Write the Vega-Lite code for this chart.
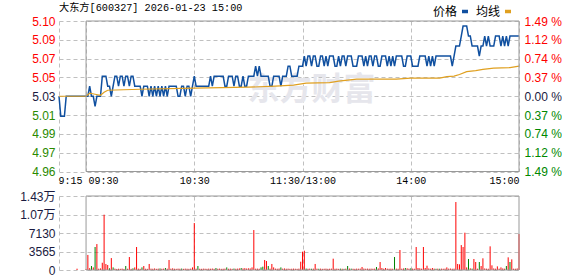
{
  "$schema": "https://vega.github.io/schema/vega-lite/v6.json",
  "background": "white",
  "padding": {"left": 19, "top": 2, "right": 0, "bottom": 0},
  "config": {
    "view": {"stroke": null},
    "axis": {"labelFont": "Liberation Sans, Noto Sans CJK SC", "labelFontSize": 12, "gridColor": "#c0c0c0", "gridDash": [4, 3], "gridWidth": 1, "gridOpacity": 1, "ticks": false, "domain": false, "labelOverlap": false}
  },
  "datasets": {
    "price": [
      {"m":-15,"p":5.03},{"m":-14,"p":5.01},{"m":-12,"p":5.01},{"m":-11,"p":5.03},
      {"m":0,"p":5.03},{"m":1,"p":5.03},{"m":2,"p":5.04},{"m":3,"p":5.03},{"m":4,"p":5.03},{"m":5,"p":5.02},{"m":6,"p":5.03},{"m":7,"p":5.03},{"m":8,"p":5.03},{"m":9,"p":5.05},
      {"m":10,"p":5.05},{"m":11,"p":5.05},{"m":12,"p":5.04},{"m":13,"p":5.04},{"m":14,"p":5.03},{"m":15,"p":5.04},{"m":16,"p":5.05},{"m":17,"p":5.05},{"m":18,"p":5.04},{"m":19,"p":5.05},
      {"m":20,"p":5.05},{"m":21,"p":5.04},{"m":22,"p":5.05},{"m":23,"p":5.05},{"m":24,"p":5.04},{"m":25,"p":5.05},{"m":26,"p":5.05},{"m":27,"p":5.04},{"m":28,"p":5.04},{"m":29,"p":5.04},
      {"m":30,"p":5.04},{"m":31,"p":5.03},{"m":32,"p":5.04},{"m":33,"p":5.04},{"m":34,"p":5.04},{"m":35,"p":5.03},{"m":36,"p":5.04},{"m":37,"p":5.03},{"m":38,"p":5.04},{"m":39,"p":5.03},
      {"m":40,"p":5.04},{"m":41,"p":5.03},{"m":42,"p":5.04},{"m":43,"p":5.03},{"m":44,"p":5.04},{"m":45,"p":5.03},{"m":46,"p":5.04},{"m":47,"p":5.04},{"m":48,"p":5.04},{"m":49,"p":5.04},
      {"m":50,"p":5.04},{"m":51,"p":5.03},{"m":52,"p":5.03},{"m":53,"p":5.04},{"m":54,"p":5.04},{"m":55,"p":5.03},{"m":56,"p":5.04},{"m":57,"p":5.04},{"m":58,"p":5.03},{"m":59,"p":5.04},
      {"m":60,"p":5.05},{"m":61,"p":5.04},{"m":62,"p":5.04},{"m":63,"p":5.04},{"m":64,"p":5.04},{"m":65,"p":5.04},{"m":66,"p":5.04},{"m":67,"p":5.04},{"m":68,"p":5.04},{"m":69,"p":5.05},
      {"m":70,"p":5.04},{"m":71,"p":5.05},{"m":72,"p":5.05},{"m":73,"p":5.05},{"m":74,"p":5.05},{"m":75,"p":5.05},{"m":76,"p":5.05},{"m":77,"p":5.04},{"m":78,"p":5.04},{"m":79,"p":5.05},
      {"m":80,"p":5.05},{"m":81,"p":5.05},{"m":82,"p":5.04},{"m":83,"p":5.05},{"m":84,"p":5.05},{"m":85,"p":5.04},{"m":86,"p":5.04},{"m":87,"p":5.05},{"m":88,"p":5.04},{"m":89,"p":5.04},
      {"m":90,"p":5.05},{"m":91,"p":5.05},{"m":92,"p":5.05},{"m":93,"p":5.05},{"m":94,"p":5.06},{"m":95,"p":5.05},{"m":96,"p":5.06},{"m":97,"p":5.05},{"m":98,"p":5.05},{"m":99,"p":5.05},
      {"m":100,"p":5.05},{"m":101,"p":5.05},{"m":102,"p":5.04},{"m":103,"p":5.04},{"m":104,"p":5.05},{"m":105,"p":5.05},{"m":106,"p":5.05},{"m":107,"p":5.05},{"m":108,"p":5.04},{"m":109,"p":5.05},
      {"m":110,"p":5.05},{"m":111,"p":5.05},{"m":112,"p":5.06},{"m":113,"p":5.06},{"m":114,"p":5.05},{"m":115,"p":5.05},{"m":116,"p":5.05},{"m":117,"p":5.05},{"m":118,"p":5.06},{"m":119,"p":5.06},
      {"m":120,"p":5.06},{"m":121,"p":5.07},{"m":122,"p":5.06},{"m":123,"p":5.07},{"m":124,"p":5.07},{"m":125,"p":5.06},{"m":126,"p":5.07},{"m":127,"p":5.07},{"m":128,"p":5.06},{"m":129,"p":5.06},
      {"m":130,"p":5.07},{"m":131,"p":5.07},{"m":132,"p":5.06},{"m":133,"p":5.07},{"m":134,"p":5.06},{"m":135,"p":5.07},{"m":136,"p":5.07},{"m":137,"p":5.07},{"m":138,"p":5.06},{"m":139,"p":5.06},
      {"m":140,"p":5.07},{"m":141,"p":5.06},{"m":142,"p":5.07},{"m":143,"p":5.07},{"m":144,"p":5.06},{"m":145,"p":5.07},{"m":146,"p":5.07},{"m":147,"p":5.07},{"m":148,"p":5.06},{"m":149,"p":5.06},
      {"m":150,"p":5.06},{"m":151,"p":5.07},{"m":152,"p":5.07},{"m":153,"p":5.07},{"m":154,"p":5.06},{"m":155,"p":5.07},{"m":156,"p":5.06},{"m":157,"p":5.07},{"m":158,"p":5.07},{"m":159,"p":5.06},
      {"m":160,"p":5.07},{"m":161,"p":5.07},{"m":162,"p":5.06},{"m":163,"p":5.06},{"m":164,"p":5.07},{"m":165,"p":5.07},{"m":166,"p":5.07},{"m":167,"p":5.06},{"m":168,"p":5.07},{"m":169,"p":5.06},
      {"m":170,"p":5.07},{"m":171,"p":5.06},{"m":172,"p":5.07},{"m":173,"p":5.07},{"m":174,"p":5.07},{"m":175,"p":5.07},{"m":176,"p":5.06},{"m":177,"p":5.06},{"m":178,"p":5.07},{"m":179,"p":5.07},
      {"m":180,"p":5.07},{"m":181,"p":5.06},{"m":182,"p":5.06},{"m":183,"p":5.06},{"m":184,"p":5.06},{"m":185,"p":5.07},{"m":186,"p":5.07},{"m":187,"p":5.07},{"m":188,"p":5.07},{"m":189,"p":5.06},
      {"m":190,"p":5.07},{"m":191,"p":5.06},{"m":192,"p":5.07},{"m":193,"p":5.06},{"m":194,"p":5.07},{"m":195,"p":5.07},{"m":196,"p":5.07},{"m":197,"p":5.07},{"m":198,"p":5.07},{"m":199,"p":5.07},
      {"m":200,"p":5.07},{"m":201,"p":5.07},{"m":202,"p":5.07},{"m":203,"p":5.06},{"m":204,"p":5.07},{"m":205,"p":5.08},{"m":206,"p":5.08},{"m":207,"p":5.08},{"m":208,"p":5.09},{"m":209,"p":5.10},
      {"m":210,"p":5.10},{"m":211,"p":5.10},{"m":212,"p":5.09},{"m":213,"p":5.09},{"m":214,"p":5.08},{"m":215,"p":5.08},{"m":216,"p":5.08},{"m":217,"p":5.08},{"m":218,"p":5.07},{"m":219,"p":5.08},
      {"m":220,"p":5.08},{"m":221,"p":5.09},{"m":222,"p":5.08},{"m":223,"p":5.09},{"m":224,"p":5.08},{"m":225,"p":5.08},{"m":226,"p":5.08},{"m":227,"p":5.09},{"m":228,"p":5.09},{"m":229,"p":5.09},
      {"m":230,"p":5.08},{"m":231,"p":5.09},{"m":232,"p":5.08},{"m":233,"p":5.09},{"m":234,"p":5.08},{"m":235,"p":5.09},{"m":236,"p":5.09},{"m":237,"p":5.09},{"m":238,"p":5.09},{"m":239,"p":5.09},
      {"m":240,"p":5.09}
    ],
    "avg": [
      {"m":-15,"a":5.03},{"m":0,"a":5.03},{"m":2,"a":5.033},{"m":5,"a":5.032},{"m":8,"a":5.031},{"m":10,"a":5.034},{"m":12,"a":5.036},{"m":30,"a":5.037},{"m":60,"a":5.038},{"m":90,"a":5.039},
      {"m":105,"a":5.04},{"m":115,"a":5.041},{"m":122,"a":5.043},{"m":135,"a":5.0435},{"m":140,"a":5.045},{"m":150,"a":5.047},{"m":172,"a":5.047},{"m":180,"a":5.048},{"m":196,"a":5.048},{"m":200,"a":5.0495},
      {"m":204,"a":5.05},{"m":207,"a":5.0517},{"m":211,"a":5.0545},{"m":216,"a":5.0555},{"m":220,"a":5.0567},{"m":226,"a":5.058},{"m":235,"a":5.0585},{"m":240,"a":5.06}
    ],
    "vol": [
      {"m":-5,"v":250,"c":"r"},{"m":0,"v":200,"c":"r"},{"m":1,"v":2900,"c":"r"},{"m":2,"v":350,"c":"r"},{"m":3,"v":770,"c":"g"},{"m":4,"v":500,"c":"r"},{"m":5,"v":4430,"c":"g"},{"m":6,"v":5000,"c":"r"},{"m":7,"v":250,"c":"r"},{"m":8,"v":300,"c":"r"},{"m":9,"v":1400,"c":"r"},
      {"m":10,"v":10660,"c":"r"},{"m":11,"v":1160,"c":"r"},{"m":12,"v":960,"c":"r"},{"m":13,"v":320,"c":"g"},{"m":14,"v":2300,"c":"r"},{"m":15,"v":500,"c":"g"},{"m":16,"v":260,"c":"r"},{"m":17,"v":200,"c":"r"},{"m":18,"v":240,"c":"r"},{"m":19,"v":220,"c":"r"},
      {"m":20,"v":260,"c":"r"},{"m":21,"v":200,"c":"r"},{"m":22,"v":770,"c":"g"},{"m":23,"v":240,"c":"r"},{"m":24,"v":2500,"c":"r"},{"m":25,"v":220,"c":"r"},{"m":26,"v":320,"c":"g"},{"m":27,"v":500,"c":"r"},{"m":28,"v":4430,"c":"r"},{"m":29,"v":260,"c":"r"},
      {"m":30,"v":220,"c":"r"},{"m":31,"v":500,"c":"g"},{"m":32,"v":770,"c":"r"},{"m":33,"v":240,"c":"r"},{"m":34,"v":220,"c":"r"},{"m":35,"v":1160,"c":"r"},{"m":36,"v":260,"c":"r"},{"m":37,"v":240,"c":"r"},{"m":38,"v":300,"c":"r"},{"m":39,"v":220,"c":"r"},
      {"m":40,"v":260,"c":"r"},{"m":41,"v":300,"c":"g"},{"m":42,"v":240,"c":"r"},{"m":43,"v":260,"c":"r"},{"m":44,"v":380,"c":"g"},{"m":45,"v":250,"c":"r"},{"m":46,"v":1930,"c":"r"},{"m":47,"v":250,"c":"r"},{"m":48,"v":320,"c":"r"},{"m":49,"v":240,"c":"r"},
      {"m":50,"v":220,"c":"r"},{"m":51,"v":260,"c":"r"},{"m":52,"v":240,"c":"r"},{"m":53,"v":280,"c":"g"},{"m":54,"v":220,"c":"r"},{"m":55,"v":260,"c":"r"},{"m":56,"v":240,"c":"r"},{"m":57,"v":220,"c":"r"},{"m":58,"v":260,"c":"r"},{"m":59,"v":500,"c":"r"},
      {"m":60,"v":9050,"c":"r"},{"m":61,"v":250,"c":"r"},{"m":62,"v":770,"c":"g"},{"m":63,"v":240,"c":"r"},{"m":64,"v":220,"c":"r"},{"m":65,"v":260,"c":"r"},{"m":66,"v":240,"c":"r"},{"m":67,"v":220,"c":"r"},{"m":68,"v":260,"c":"r"},{"m":69,"v":240,"c":"r"},
      {"m":70,"v":280,"c":"r"},{"m":71,"v":220,"c":"r"},{"m":72,"v":380,"c":"g"},{"m":73,"v":240,"c":"r"},{"m":74,"v":260,"c":"r"},{"m":75,"v":220,"c":"r"},{"m":76,"v":240,"c":"r"},{"m":77,"v":260,"c":"r"},{"m":78,"v":500,"c":"g"},{"m":79,"v":240,"c":"r"},
      {"m":80,"v":260,"c":"r"},{"m":81,"v":220,"c":"r"},{"m":82,"v":280,"c":"g"},{"m":83,"v":240,"c":"r"},{"m":84,"v":260,"c":"r"},{"m":85,"v":300,"c":"r"},{"m":86,"v":380,"c":"g"},{"m":87,"v":300,"c":"r"},{"m":88,"v":350,"c":"r"},{"m":89,"v":280,"c":"r"},
      {"m":90,"v":320,"c":"r"},{"m":91,"v":300,"c":"r"},{"m":92,"v":500,"c":"r"},{"m":93,"v":7700,"c":"r"},{"m":94,"v":250,"c":"r"},{"m":95,"v":260,"c":"r"},{"m":96,"v":240,"c":"r"},{"m":97,"v":500,"c":"g"},{"m":98,"v":640,"c":"g"},{"m":99,"v":1930,"c":"r"},
      {"m":100,"v":1730,"c":"r"},{"m":101,"v":770,"c":"g"},{"m":102,"v":250,"c":"r"},{"m":103,"v":1160,"c":"r"},{"m":104,"v":500,"c":"r"},{"m":105,"v":260,"c":"r"},{"m":106,"v":240,"c":"r"},{"m":107,"v":280,"c":"r"},{"m":108,"v":500,"c":"g"},{"m":109,"v":260,"c":"r"},
      {"m":110,"v":300,"c":"r"},{"m":111,"v":240,"c":"r"},{"m":112,"v":260,"c":"r"},{"m":113,"v":220,"c":"r"},{"m":114,"v":240,"c":"r"},{"m":115,"v":260,"c":"r"},{"m":116,"v":240,"c":"r"},{"m":117,"v":220,"c":"r"},{"m":118,"v":260,"c":"r"},{"m":119,"v":1600,"c":"r"},
      {"m":120,"v":3530,"c":"r"},{"m":121,"v":3720,"c":"r"},{"m":122,"v":280,"c":"g"},{"m":123,"v":240,"c":"r"},{"m":124,"v":260,"c":"r"},{"m":125,"v":240,"c":"g"},{"m":126,"v":260,"c":"r"},{"m":127,"v":1160,"c":"r"},{"m":128,"v":260,"c":"r"},{"m":129,"v":240,"c":"g"},
      {"m":130,"v":260,"c":"r"},{"m":131,"v":220,"c":"r"},{"m":132,"v":240,"c":"r"},{"m":133,"v":260,"c":"r"},{"m":134,"v":220,"c":"r"},{"m":135,"v":240,"c":"r"},{"m":136,"v":260,"c":"r"},{"m":137,"v":2180,"c":"r"},{"m":138,"v":240,"c":"r"},{"m":139,"v":260,"c":"r"},
      {"m":140,"v":220,"c":"r"},{"m":141,"v":260,"c":"g"},{"m":142,"v":240,"c":"r"},{"m":143,"v":220,"c":"g"},{"m":144,"v":260,"c":"r"},{"m":145,"v":770,"c":"g"},{"m":146,"v":280,"c":"r"},{"m":147,"v":260,"c":"g"},{"m":148,"v":240,"c":"r"},{"m":149,"v":220,"c":"r"},
      {"m":150,"v":260,"c":"r"},{"m":151,"v":240,"c":"r"},{"m":152,"v":260,"c":"r"},{"m":153,"v":580,"c":"r"},{"m":154,"v":280,"c":"r"},{"m":155,"v":240,"c":"r"},{"m":156,"v":260,"c":"r"},{"m":157,"v":240,"c":"r"},{"m":158,"v":260,"c":"r"},{"m":159,"v":240,"c":"r"},
      {"m":160,"v":260,"c":"r"},{"m":161,"v":580,"c":"g"},{"m":162,"v":300,"c":"r"},{"m":163,"v":1540,"c":"r"},{"m":164,"v":380,"c":"r"},{"m":165,"v":250,"c":"r"},{"m":166,"v":380,"c":"r"},{"m":167,"v":260,"c":"r"},{"m":168,"v":240,"c":"r"},{"m":169,"v":260,"c":"r"},
      {"m":170,"v":240,"c":"r"},{"m":171,"v":2500,"c":"g"},{"m":172,"v":260,"c":"r"},{"m":173,"v":240,"c":"r"},{"m":174,"v":3850,"c":"r"},{"m":175,"v":250,"c":"r"},{"m":176,"v":300,"c":"r"},{"m":177,"v":380,"c":"g"},{"m":178,"v":320,"c":"r"},{"m":179,"v":250,"c":"r"},
      {"m":180,"v":320,"c":"g"},{"m":181,"v":260,"c":"r"},{"m":182,"v":240,"c":"r"},{"m":183,"v":4430,"c":"r"},{"m":184,"v":380,"c":"r"},{"m":185,"v":320,"c":"r"},{"m":186,"v":250,"c":"r"},{"m":187,"v":4430,"c":"r"},{"m":188,"v":380,"c":"r"},{"m":189,"v":830,"c":"r"},
      {"m":190,"v":300,"c":"r"},{"m":191,"v":250,"c":"r"},{"m":192,"v":380,"c":"r"},{"m":193,"v":260,"c":"r"},{"m":194,"v":240,"c":"g"},{"m":195,"v":260,"c":"r"},{"m":196,"v":240,"c":"g"},{"m":197,"v":260,"c":"r"},{"m":198,"v":240,"c":"r"},{"m":199,"v":260,"c":"r"},
      {"m":200,"v":500,"c":"r"},{"m":201,"v":260,"c":"r"},{"m":202,"v":280,"c":"r"},{"m":203,"v":240,"c":"r"},{"m":204,"v":260,"c":"r"},{"m":205,"v":13100,"c":"r"},{"m":206,"v":1160,"c":"r"},{"m":207,"v":1090,"c":"r"},{"m":208,"v":4800,"c":"r"},{"m":209,"v":4430,"c":"r"},
      {"m":210,"v":7190,"c":"r"},{"m":211,"v":500,"c":"r"},{"m":212,"v":2120,"c":"g"},{"m":213,"v":320,"c":"r"},{"m":214,"v":260,"c":"g"},{"m":215,"v":2120,"c":"r"},{"m":216,"v":1540,"c":"r"},{"m":217,"v":250,"c":"r"},{"m":218,"v":1540,"c":"g"},{"m":219,"v":770,"c":"r"},
      {"m":220,"v":2250,"c":"r"},{"m":221,"v":300,"c":"r"},{"m":222,"v":250,"c":"r"},{"m":223,"v":240,"c":"r"},{"m":224,"v":4560,"c":"r"},{"m":225,"v":900,"c":"r"},{"m":226,"v":300,"c":"r"},{"m":227,"v":250,"c":"r"},{"m":228,"v":700,"c":"r"},{"m":229,"v":250,"c":"r"},
      {"m":230,"v":500,"c":"r"},{"m":231,"v":300,"c":"r"},{"m":232,"v":250,"c":"r"},{"m":233,"v":770,"c":"g"},{"m":234,"v":2440,"c":"r"},{"m":235,"v":1540,"c":"g"},{"m":236,"v":2050,"c":"r"},{"m":237,"v":250,"c":"r"},{"m":238,"v":240,"c":"r"},{"m":239,"v":300,"c":"r"},
      {"m":240,"v":6930,"c":"r"}
    ]
  },
  "bounds": "flush",
  "spacing": 24,
  "resolve": {"scale": {"color": "independent", "x": "independent", "y": "independent"}, "legend": {"color": "independent"}},
  "vconcat": [
    {
      "width": 460,
      "height": 150.5,
      "title": {"text": "大东方[600327] 2026-01-23 15:00", "anchor": "start", "frame": "group", "font": "Liberation Mono, Noto Sans CJK SC", "fontSize": 10.2, "fontWeight": "normal", "color": "#000000", "offset": -7.5},
      "resolve": {"axis": {"x": "independent", "y": "independent"}},
      "layer": [
        {
          "data": {"values": [{"t": "东方财富"}]},
          "mark": {"type": "text", "font": "Noto Sans CJK SC", "fontSize": 32, "fontWeight": "bold", "color": "#e6e6ec"},
          "encoding": {
            "x": {"datum": 125, "type": "quantitative", "scale": {"domain": [-15, 240], "nice": false, "zero": false}, "axis": null},
            "y": {"datum": 5.036, "type": "quantitative", "scale": {"domain": [4.955, 5.105], "nice": false, "zero": false}, "axis": null},
            "text": {"field": "t"}
          }
        },
        {
          "data": {"name": "price"},
          "mark": {"type": "line", "strokeWidth": 1.5},
          "encoding": {
            "x": {"field": "m", "type": "quantitative", "scale": {"domain": [-15, 240], "nice": false, "zero": false}, "axis": {
              "values": [-15, 0, 60, 120, 180, 240], "grid": true, "gridColor": "#c0c0c0", "gridDash": [4, 3], "labelPadding": 4, "labelFlush": false, "labelBound": false, "title": null,
              "labelFont": "Liberation Mono", "labelFontSize": 10, "labelColor": "#000000",
              "labelExpr": "datum.value == -15 ? '9:15' : datum.value == 0 ? '09:30' : datum.value == 60 ? '10:30' : datum.value == 120 ? '11:30/13:00' : datum.value == 180 ? '14:00' : '15:00'",
              "labelAlign": {"condition": [{"test": "datum.value <= 0", "value": "left"}, {"test": "datum.value >= 240", "value": "right"}], "value": "center"},
              "labelOffset": {"condition": [{"test": "datum.value == 0", "value": 2}, {"test": "datum.value == -15", "value": -1}], "value": 0}
            }},
            "y": {"field": "p", "type": "quantitative", "scale": {"domain": [4.955, 5.105], "nice": false, "zero": false}, "axis": {
              "orient": "left", "grid": true, "gridColor": "#c0c0c0", "gridDash": [4, 3], "labelPadding": 4, "title": null,
              "values": [4.955, 4.97375, 4.9925, 5.01125, 5.03, 5.04875, 5.0675, 5.08625, 5.105],
              "labelExpr": "['4.96','4.97','4.99','5.01','5.03','5.05','5.07','5.09','5.10'][round((datum.value-5.03)/0.01875)+4]",
              "labelColor": {"condition": [{"test": "datum.value > 5.031", "value": "#ff0000"}, {"test": "datum.value < 5.029", "value": "#2a8a00"}], "value": "#1a1a40"}
            }},
            "color": {"datum": "价格", "scale": {"domain": ["价格", "均线"], "range": ["#1050a0", "#e0a020"]}, "legend": {
              "orient": "none", "legendX": 400, "legendY": -15.5, "direction": "horizontal", "title": null, "padding": 0,
              "labelFont": "Noto Sans CJK SC", "labelFontSize": 12, "labelColor": "#000000",
              "symbolType": "stroke", "symbolSize": 36, "symbolStrokeWidth": 3.5,
              "labelAlign": "right", "labelOffset": -14, "columnPadding": 0
            }}
          }
        },
        {
          "data": {"name": "avg"},
          "mark": {"type": "line", "strokeWidth": 1.2},
          "encoding": {
            "x": {"field": "m", "type": "quantitative", "axis": null},
            "y": {"field": "a", "type": "quantitative", "axis": {
              "orient": "right", "grid": false, "labelPadding": 5, "title": null,
              "values": [4.955, 4.97375, 4.9925, 5.01125, 5.03, 5.04875, 5.0675, 5.08625, 5.105],
              "labelExpr": "['1.49','1.12','0.74','0.37','0.00','0.37','0.74','1.12','1.49'][round((datum.value-5.03)/0.01875)+4] + ' %'",
              "labelColor": {"condition": [{"test": "datum.value > 5.031", "value": "#ff0000"}, {"test": "datum.value < 5.029", "value": "#008800"}], "value": "#1a1a40"}
            }},
            "color": {"datum": "均线"}
          }
        },
        {
          "data": {"values": [{}]},
          "mark": {"type": "rect", "fill": "transparent", "stroke": "#999999", "strokeWidth": 1},
          "encoding": {
            "x": {"datum": 0, "type": "quantitative", "axis": null},
            "x2": {"datum": 240},
            "y": {"datum": 4.955, "type": "quantitative", "axis": null},
            "y2": {"datum": 5.105}
          }
        }
      ]
    },
    {
      "width": 460,
      "height": 74,
      "resolve": {"axis": {"x": "independent", "y": "independent"}},
      "layer": [
        {
          "data": {"name": "vol"},
          "mark": {"type": "rule", "strokeWidth": 1},
          "encoding": {
            "x": {"field": "m", "type": "quantitative", "scale": {"domain": [-15, 240], "nice": false, "zero": false}, "axis": {"values": [-15, 60, 120, 180], "grid": true, "gridColor": "#c0c0c0", "gridDash": [4, 3], "labels": false, "title": null}},
            "y": {"field": "v", "type": "quantitative", "scale": {"domain": [0, 14260], "nice": false}, "axis": {
              "orient": "left", "grid": true, "gridColor": "#c0c0c0", "gridDash": [4, 3], "labelPadding": 4, "labelColor": "#1a1a40", "title": null,
              "values": [0, 3565, 7130, 10695, 14260],
              "labelExpr": "datum.value >= 10000 ? format(datum.value/10000, '.2f') + '万' : format(datum.value, 'd')"
            }},
            "y2": {"datum": 0},
            "color": {"field": "c", "type": "nominal", "scale": {"domain": ["r", "g"], "range": ["#ff0000", "#008000"]}, "legend": null}
          }
        },
        {
          "data": {"values": [{}]},
          "mark": {"type": "rect", "fill": "transparent", "stroke": "#999999", "strokeWidth": 1},
          "encoding": {
            "x": {"datum": 0, "type": "quantitative", "axis": null},
            "x2": {"datum": 240},
            "y": {"datum": 0, "type": "quantitative", "axis": null},
            "y2": {"datum": 14260}
          }
        }
      ]
    }
  ]
}
